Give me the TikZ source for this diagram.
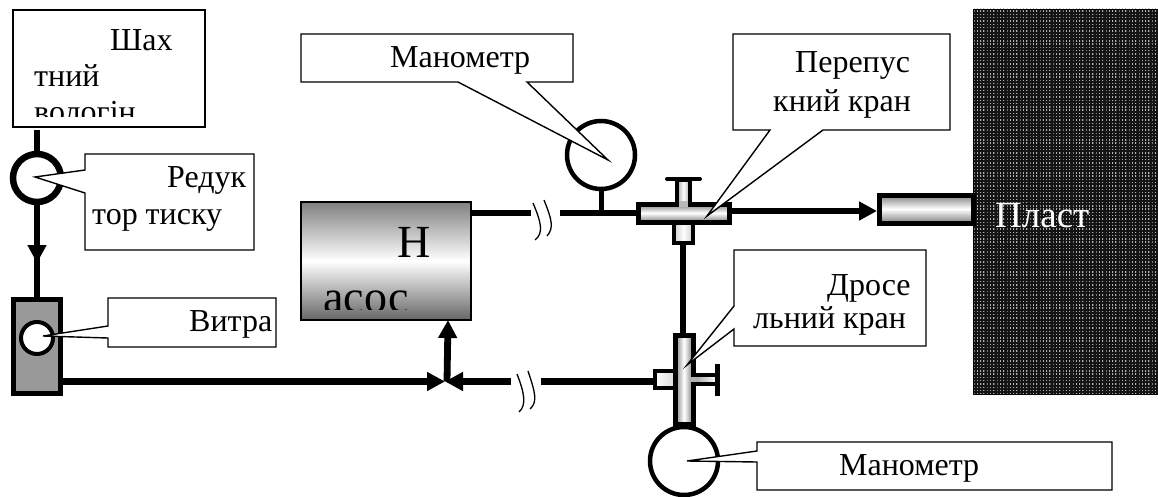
\documentclass[tikz,border=0pt]{standalone}
\usepackage{fontspec}
\setmainfont{Liberation Serif}
\usetikzlibrary{arrows.meta,patterns}
\pgfdeclarepatternformonly{plastdots}{\pgfqpoint{-1pt}{-1pt}}{\pgfqpoint{1pt}{1pt}}{\pgfqpoint{3.3pt}{3.3pt}}{%
  \pgfpathrectangle{\pgfqpoint{0pt}{0pt}}{\pgfqpoint{1.4pt}{1.4pt}}\pgfusepath{fill}}
\tikzset{
  pipe/.style={line width=6.8pt,draw=black},
  flow/.style={pipe,-{Triangle[length=18pt,width=18pt]}},
  callout/.style={draw=black,line width=1.4pt,fill=white,line join=miter},
  lbl/.style={inner sep=0pt,anchor=base west,font=\fontsize{32}{32}\selectfont},
  bigl/.style={inner sep=0pt,anchor=base west,font=\fontsize{46}{46}\selectfont},
  gauge/.style={draw=black,line width=4.5pt,fill=white},
  vbody/.style={draw=black,line width=5pt,top color=gray,bottom color=gray,middle color=white},
  hbody/.style={draw=black,line width=5pt,left color=gray,right color=gray,middle color=white},
  brk/.style={line width=1.3pt,draw=black},
}
\begin{document}
\begin{tikzpicture}[x=1pt,y=-1pt]
\useasboundingbox (0,0) rectangle (1158,497);
% layer
\fill[black!92] (973,9) rectangle (1158,394);
\fill[pattern=plastdots,pattern color=white!70!black] (973,9) rectangle (1158,394);
\draw[line width=0.8pt,black] (973,9) rectangle (1158,394);
\node[lbl,text=white,font=\fontsize{37}{37}\selectfont] (plast) at (995,227) {Пласт};
% mine water tank
\draw[line width=2pt,fill=white] (13,10) rectangle (205,127);
\begin{scope}
  \clip (13,10) rectangle (205,117);
  \node[lbl] (t1a) at (110,51) {Шах};
  \node[lbl] (t1b) at (34,87) {тний};
  \node[lbl] (t1c) at (34,123) {вологін};
\end{scope}
% reducer
\coordinate (tankout) at (37,130);
\coordinate (redc) at (37,178);
\coordinate (filttop) at (37,297);
\draw[pipe] (tankout) -- (redc);
\draw[flow] (redc) -- (37,263);
\draw[pipe] (37,250) -- (filttop);
\draw[draw=black,line width=6.5pt,fill=white] (redc) circle (24);
\draw[callout] (85,154) -- (254,154) -- (254,250) -- (85,250) -- (85,193) -- (35,177) -- (85,170) -- cycle;
\node[lbl] (t2a) at (167,187) {Редук};
\node[lbl] (t2b) at (92,224) {тор тиску};
% filter
\draw[draw=black,line width=5pt,fill=gray!80] (13.5,299.5) rectangle (60.5,393.5);
\draw[gauge,line width=4pt] (37,338) circle (16);
\draw[callout] (108,298) -- (276,298) -- (276,347) -- (108,347) -- (108,338) -- (43,336) -- (108,326) -- cycle;
\node[lbl] (t3) at (189,331) {Витра};
% pump
\draw[line width=1.6pt,top color=gray,bottom color=black!60,middle color=white] (301,202) rectangle (471,320);
\begin{scope}
  \clip (301,202) rectangle (471,309);
  \node[bigl] (t4a) at (397,257) {Н};
  \node[bigl] (t4b) at (323,312) {асос};
\end{scope}
% bottom line
\coordinate (junc) at (445,381.5);
\coordinate (brkb1) at (511,381.5);
\coordinate (brkb2) at (541,381.5);
\draw[flow] (60,381.5) -- (junc);
\draw[flow] (brkb1) -- (junc);
\draw[pipe] (brkb2) -- (655,381.5);
\draw[flow] (447,381.5) -- (448,320);
\draw[brk] (517,374) .. controls (524,392) and (527,405) .. (519,412);
\draw[brk] (528,371) .. controls (535,392) and (538,402) .. (530,409);
% top line
\coordinate (pumpout) at (471,213);
\draw[pipe] (pumpout) -- (531,213);
\draw[pipe] (560,213) -- (638,213);
\draw[brk] (533,203) .. controls (541,222) and (544,233) .. (535,240);
\draw[brk] (544,200) .. controls (552,220) and (554,228) .. (547,236);
% top gauge
\draw[pipe,line width=5pt] (601,190) -- (601,213);
\draw[gauge] (601,155) circle (34);
\draw[callout] (301,34) -- (573,34) -- (573,82) -- (527,82) -- (608,160) -- (458,82) -- (301,82) -- cycle;
\node[lbl] (t5) at (390,68) {Манометр};
% bypass valve
\draw[line width=4pt,draw=black,left color=gray!70,right color=gray!70,middle color=white] (677,180) rectangle (690,204);
\draw[line width=4pt,line cap=round] (667,179) -- (700,179);
\draw[line width=4pt,draw=black,left color=gray!40,right color=gray!40,middle color=white] (674,223) rectangle (693,243);
\draw[vbody] (638,204) rectangle (729,222);
\fill[gray!55] (679,201) rectangle (688,207);
\draw[flow] (731,211) -- (877,211);
\draw[pipe] (683,243) -- (683,334);
\draw[vbody] (879,195) rectangle (973,223);
\draw[callout] (733,34) -- (950,34) -- (950,130) -- (823,130) -- (707,216) -- (770,130) -- (733,130) -- cycle;
\node[lbl] (t6a) at (795,73) {Перепус};
\node[lbl] (t6b) at (773,112) {кний кран};
% throttle valve
\draw[line width=4pt,draw=black,left color=gray!70,right color=white] (695,375) rectangle (717,384);
\draw[line width=5pt] (717,364) -- (717,396);
\draw[line width=4pt,draw=black,left color=white,right color=gray!30] (655,371) rectangle (675,388);
\draw[hbody] (675,335) rectangle (693,424);
\fill[gray!60] (691,377) rectangle (697,382);
\draw[gauge] (684,461) circle (34);
\draw[callout] (734,250) -- (926,250) -- (926,346) -- (734,346) -- (734,329) -- (687,365) -- (734,306) -- cycle;
\node[lbl] (t7a) at (827,295) {Дросе};
\node[lbl] (t7b) at (753,328) {льний кран};
\draw[callout] (757,442) -- (1112,442) -- (1112,490) -- (757,490) -- (757,462) -- (687,461) -- (757,451) -- cycle;
\node[lbl] (t8) at (839,475) {Манометр};
\end{tikzpicture}
\end{document}
